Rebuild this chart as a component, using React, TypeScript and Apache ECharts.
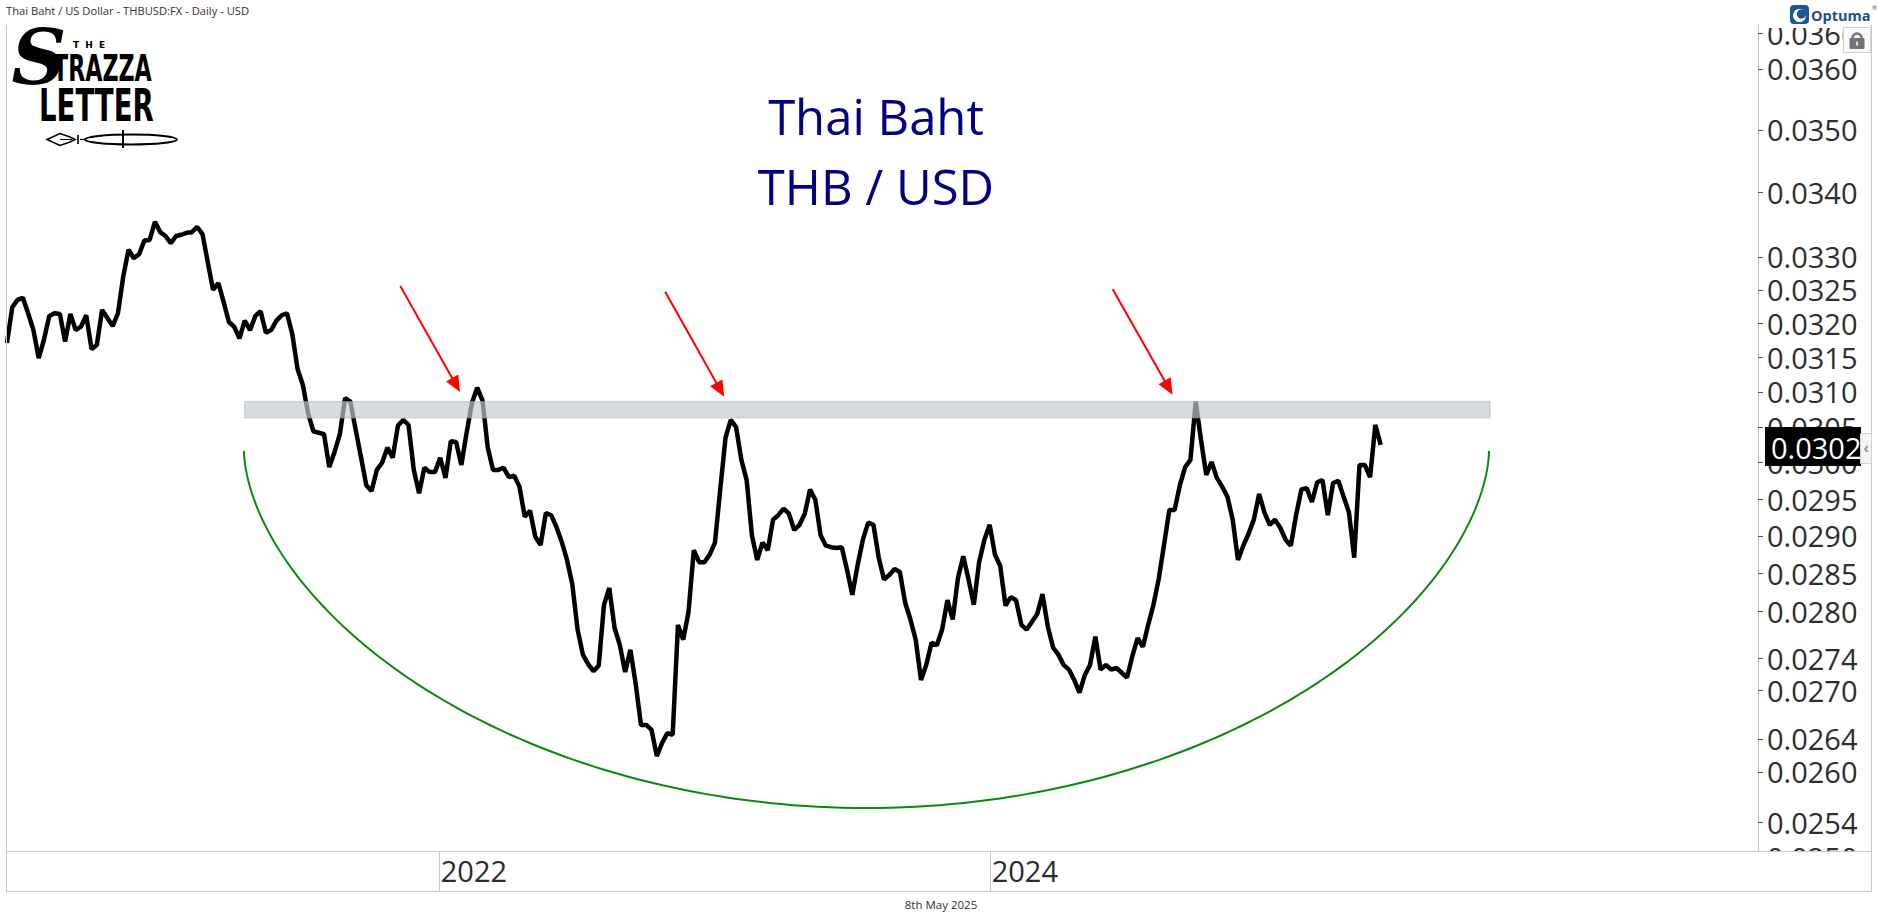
import React, { useEffect, useRef } from "react";
import * as echarts from "echarts";

// ---------------- DATA ----------------
// Weekly closes (Mondays) starting at this date
const FIRST_WEEK = "2020-06-08";
const AXIS_MIN = "2020-06-08";
const AXIS_MAX = "2026-10-15";
const YEAR_LABELS = ["2022-01-01", "2024-01-01"];

const RATES = [
  0.03171, 0.03224, 0.03235, 0.03238, 0.03215, 0.0319, 0.03149, 0.03176, 0.03211, 0.03215,
  0.03214, 0.03173, 0.03214, 0.0319, 0.03195, 0.03212, 0.03162, 0.03168, 0.0322, 0.03208,
  0.03196, 0.03215, 0.0327, 0.03311, 0.03298, 0.03304, 0.03325, 0.03326, 0.03354, 0.03338,
  0.03332, 0.03321, 0.03332, 0.03334, 0.03337, 0.03338, 0.03346, 0.03335, 0.03292, 0.0325,
  0.0326, 0.03232, 0.03202, 0.03195, 0.03178, 0.03204, 0.0319, 0.03211, 0.03218, 0.03186,
  0.0319, 0.03204, 0.03212, 0.03215, 0.03184, 0.03133, 0.0311, 0.03069, 0.03044, 0.03042,
  0.0304, 0.02994, 0.03015, 0.0304, 0.03091, 0.03086, 0.03046, 0.03008, 0.02969, 0.02961,
  0.0299, 0.03, 0.03021, 0.03007, 0.03052, 0.0306, 0.03053, 0.0299, 0.02958, 0.02993,
  0.02987, 0.02987, 0.03007, 0.02979, 0.0303, 0.03029, 0.02997, 0.03042, 0.03084, 0.03106,
  0.03088, 0.03021, 0.0299, 0.0299, 0.02993, 0.0298, 0.02982, 0.02967, 0.02926, 0.02934,
  0.02899, 0.02888, 0.02931, 0.02928, 0.02912, 0.02892, 0.02868, 0.02836, 0.02777, 0.02745,
  0.02733, 0.02724, 0.02731, 0.02809, 0.02831, 0.02779, 0.02757, 0.02723, 0.02751, 0.02708,
  0.02657, 0.02657, 0.02651, 0.02619, 0.02635, 0.02647, 0.02645, 0.02783, 0.02764, 0.028,
  0.02881, 0.02865, 0.02865, 0.02875, 0.02891, 0.02963, 0.03035, 0.0306, 0.0305, 0.03004,
  0.02976, 0.02901, 0.02868, 0.02891, 0.02881, 0.02922, 0.02928, 0.02937, 0.0293, 0.02908,
  0.02915, 0.0293, 0.02963, 0.02949, 0.02901, 0.02887, 0.02885, 0.02884, 0.02885, 0.02855,
  0.02822, 0.02861, 0.02895, 0.02918, 0.02915, 0.02871, 0.02842, 0.02848, 0.02856, 0.02852,
  0.02812, 0.0279, 0.02764, 0.02713, 0.02732, 0.0276, 0.02757, 0.02777, 0.02815, 0.0279,
  0.02844, 0.02873, 0.02842, 0.02809, 0.02865, 0.02895, 0.02915, 0.02875, 0.0286, 0.02808,
  0.02819, 0.02815, 0.02783, 0.02777, 0.02787, 0.02797, 0.02823, 0.02781, 0.02754, 0.02745,
  0.02732, 0.02726, 0.02713, 0.02697, 0.02719, 0.02732, 0.02768, 0.02726, 0.02732, 0.02726,
  0.02728, 0.02722, 0.02716, 0.02743, 0.02766, 0.02755, 0.02783, 0.02809, 0.02843, 0.02888,
  0.02935, 0.02935, 0.02969, 0.02994, 0.03004, 0.03086, 0.03032, 0.02983, 0.03001, 0.02979,
  0.02967, 0.02953, 0.02922, 0.02868, 0.02887, 0.02903, 0.02922, 0.02957, 0.02932, 0.02915,
  0.02922, 0.02911, 0.02895, 0.02887, 0.02928, 0.02963, 0.02965, 0.02946, 0.02973, 0.02976,
  0.02928, 0.02972, 0.02975, 0.02953, 0.02932, 0.02871, 0.02997, 0.02997, 0.0298, 0.03053,
  0.03025,
];

const Y_MIN = 0.025064;
const Y_MAX = 0.03674;
const Y_TICKS = [
  0.0254, 0.026, 0.0264, 0.027, 0.0274, 0.028, 0.0285, 0.029, 0.0295, 0.03,
  0.0305, 0.031, 0.0315, 0.032, 0.0325, 0.033, 0.034, 0.035, 0.036, 0.0366,
];
const HIDDEN_TICK_LABEL = "0.0250";

// resistance band
const BAND_FROM = "2021-04-19";
const BAND_TO = "2025-10-25";
const BAND_LOW = 0.03063;
const BAND_HIGH = 0.03086;

// red arrows: [startDate, startValue, endDate, endValue]
const ARROWS: [string, number, string, number][] = [
  ["2021-11-11", 0.03256, "2022-01-24", 0.0311],
  ["2022-10-28", 0.03247, "2023-01-09", 0.03103],
  ["2024-06-12", 0.03251, "2024-08-25", 0.03106],
];

const TITLE_1 = "Thai Baht";
const TITLE_2 = "THB / USD";
const CAPTION = "Thai Baht / US Dollar - THBUSD:FX - Daily - USD";
const FOOTER = "8th May 2025";

// ---------------- HELPERS ----------------
const W = 1878;
const H = 924;
const FONT = "'Open Sans', 'Noto Sans', sans-serif";

function toTime(s: string): number {
  const [y, m, d] = s.split("-").map(Number);
  return Date.UTC(y, m - 1, d);
}
const WEEK_TIMES = RATES.map((_, i) => {
  const [y, m, d] = FIRST_WEEK.split("-").map(Number);
  return Date.UTC(y, m - 1, d + 7 * i);
});

const LAST = RATES[RATES.length - 1];
const LAST_LABEL = (Math.floor(LAST * 10000) / 10000).toFixed(4);

// green saucer annotation (pixel space)
const ARC = { cx: 866.5, top: 451, halfWidth: 622.5, depth: 357, power: 0.58 };
function arcPoints(): number[][] {
  const pts: number[][] = [];
  const n = 160;
  for (let k = 0; k <= n; k++) {
    const t = -Math.cos((Math.PI * k) / n);
    const y = ARC.top + ARC.depth * Math.pow(Math.max(0, 1 - t * t), ARC.power);
    pts.push([ARC.cx + ARC.halfWidth * t, y]);
  }
  return pts;
}

const GRAY = "#c8c8c8";

function buildGraphics(sepXs: number[]) {
  const g: any[] = [];
  const line = (x1: number, y1: number, x2: number, y2: number, stroke = GRAY, lw = 1, z = 60) =>
    g.push({ type: "line", z, silent: true, shape: { x1, y1, x2, y2 }, style: { stroke, lineWidth: lw } });

  // caption
  g.push({
    type: "text", z: 70, x: 6, y: 10, silent: true,
    style: { text: CAPTION, fontSize: 11.2, fontFamily: FONT, fill: "#3a2c38", align: "left", verticalAlign: "middle" },
  });

  // logo: THE STRAZZA LETTER
  g.push({
    type: "text", z: 70, x: 39, y: 57, silent: true,
    style: { text: "S", fontSize: 76, fontFamily: "'DejaVu Serif', serif", fontStyle: "italic", fontWeight: "bold", fill: "#000", align: "center", verticalAlign: "middle" },
  });
  ["T", "H", "E"].forEach((ch, i) =>
    g.push({
      type: "text", z: 70, x: 76 + i * 13, y: 45, silent: true,
      style: { text: ch, fontSize: 9, fontWeight: "bold", fontFamily: "'DejaVu Sans', sans-serif", fill: "#000", align: "center", verticalAlign: "middle" },
    })
  );
  g.push({
    type: "text", z: 70, x: 53, y: 68.5, scaleX: 0.6, silent: true,
    style: { text: "TRAZZA", fontSize: 37, fontWeight: "bold", fontFamily: "'DejaVu Sans', sans-serif", fill: "#000", align: "left", verticalAlign: "middle" },
  });
  g.push({
    type: "text", z: 70, x: 39, y: 105.5, scaleX: 0.613, silent: true,
    style: { text: "LETTER", fontSize: 45, fontWeight: "bold", fontFamily: "'DejaVu Sans', sans-serif", fill: "#000", align: "left", verticalAlign: "middle" },
  });
  g.push({
    type: "polygon", z: 70, silent: true,
    shape: { points: [[47, 139.5], [60, 133.5], [70, 137], [75, 139.5], [70, 142], [60, 145.5]] },
    style: { stroke: "#000", lineWidth: 1.6, fill: "none" },
  });
  line(60, 139.5, 72, 139.5, "#000", 1, 70);
  line(78, 135, 78, 144, "#000", 1.6, 70);
  line(80, 139.5, 86, 139.5, "#000", 1.2, 70);
  g.push({
    type: "ellipse", z: 70, silent: true, shape: { cx: 131, cy: 139.5, rx: 46, ry: 5 },
    style: { stroke: "#000", lineWidth: 2, fill: "none" },
  });
  line(123, 130, 123, 148, "#000", 2, 70);

  // title
  g.push({
    type: "text", z: 70, x: 876, y: 116, silent: true,
    style: { text: TITLE_1, fontSize: 49, fontFamily: FONT, fill: "#000080", align: "center", verticalAlign: "middle" },
  });
  g.push({
    type: "text", z: 70, x: 876, y: 186, silent: true,
    style: { text: TITLE_2, fontSize: 49, fontFamily: FONT, fill: "#000080", align: "center", verticalAlign: "middle" },
  });

  // green saucer
  g.push({
    type: "polyline", z: 10, silent: true, shape: { points: arcPoints() },
    style: { stroke: "#0a8a0a", lineWidth: 2, fill: "none" },
  });

  // clipped bottom tick label + x band cover
  g.push({
    type: "text", z: 55, x: 1767, y: 857, silent: true,
    style: { text: HIDDEN_TICK_LABEL, fontSize: 29, fontFamily: FONT, fill: "#2e2e2e", align: "left", verticalAlign: "middle" },
  });
  g.push({ type: "rect", z: 58, silent: true, shape: { x: 1759, y: 852, width: 112, height: 39 }, style: { fill: "#fff" } });
  // top cover above axis
  g.push({ type: "rect", z: 58, silent: true, shape: { x: 1759, y: 0, width: 119, height: 28 }, style: { fill: "#fff" } });

  // frame
  line(6.5, 25, 6.5, 891.5);
  line(1871.5, 25, 1871.5, 891.5);
  line(6, 891.5, 1872, 891.5);
  line(1758, 851.5, 1872, 851.5);
  // year separators in the date band
  sepXs.forEach((x) => line(Math.round(x) + 0.5, 851, Math.round(x) + 0.5, 891));

  // Optuma logo
  g.push({ type: "rect", z: 70, silent: true, shape: { x: 1790, y: 5, width: 19, height: 19, r: 4 }, style: { fill: "#1d5796" } });
  g.push({ type: "circle", z: 71, silent: true, shape: { cx: 1799.5, cy: 15.5, r: 6.5 }, style: { fill: "#fff" } });
  g.push({ type: "circle", z: 72, silent: true, shape: { cx: 1801.5, cy: 14, r: 4.6 }, style: { fill: "#1d5796" } });
  g.push({
    type: "text", z: 70, x: 1811, y: 15, silent: true,
    style: { text: "Optuma", fontSize: 14.5, fontWeight: "bold", fontFamily: FONT, fill: "#1d4f8c", align: "left", verticalAlign: "middle" },
  });
  g.push({
    type: "text", z: 70, x: 1872, y: 8, silent: true,
    style: { text: "®", fontSize: 6, fontFamily: FONT, fill: "#1d4f8c", align: "left", verticalAlign: "middle" },
  });

  // lock
  g.push({ type: "rect", z: 70, silent: true, shape: { x: 1843.5, y: 27.5, width: 27, height: 25 }, style: { fill: "#fafafa", stroke: "#d0d0d0", lineWidth: 1 } });
  g.push({ type: "arc", z: 71, silent: true, shape: { cx: 1857, cy: 38, r: 4.5, startAngle: Math.PI, endAngle: Math.PI * 2 }, style: { stroke: "#727272", lineWidth: 2.5, fill: "none" } });
  g.push({ type: "rect", z: 71, silent: true, shape: { x: 1849.5, y: 38, width: 15, height: 11, r: 1.5 }, style: { fill: "#727272" } });
  g.push({ type: "rect", z: 72, silent: true, shape: { x: 1856.2, y: 41.5, width: 1.6, height: 4 }, style: { fill: "#fafafa" } });

  // last price tag
  g.push({ type: "rect", z: 70, silent: true, shape: { x: 1765, y: 427, width: 96, height: 39 }, style: { fill: "#000" } });
  g.push({
    type: "text", z: 71, x: 1771, y: 447, silent: true,
    style: { text: LAST_LABEL, fontSize: 29, fontFamily: FONT, fill: "#fff", align: "left", verticalAlign: "middle" },
  });
  g.push({ type: "rect", z: 72, silent: true, shape: { x: 1860.5, y: 433.5, width: 11, height: 30 }, style: { fill: "#f4f4f4", stroke: "#d0d0d0", lineWidth: 1 } });
  g.push({
    type: "text", z: 73, x: 1866, y: 447, silent: true,
    style: { text: "‹", fontSize: 14, fontWeight: "bold", fontFamily: FONT, fill: "#8a8a8a", align: "center", verticalAlign: "middle" },
  });

  // footer date
  g.push({
    type: "text", z: 70, x: 941, y: 904, silent: true,
    style: { text: FOOTER, fontSize: 11.5, fontFamily: FONT, fill: "#333", align: "center", verticalAlign: "middle" },
  });
  return g;
}

function buildOption() {
  const yearTicks = YEAR_LABELS.map(toTime);
  return {
    animation: false,
    backgroundColor: "#ffffff",
    textStyle: { fontFamily: FONT },
    grid: { left: 7, right: W - 1758, top: 25, bottom: H - 851, containLabel: false, outerBoundsMode: "none" },
    xAxis: {
      type: "value",
      min: toTime(AXIS_MIN),
      max: toTime(AXIS_MAX),
      axisLine: { show: true, lineStyle: { color: GRAY, width: 1 } },
      axisTick: { show: false },
      axisLabel: {
        show: true,
        customValues: yearTicks,
        formatter: (v: number) => String(new Date(v).getUTCFullYear()),
        align: "left",
        verticalAlign: "middle",
        margin: 19,
        padding: [0, 0, 0, 2],
        fontSize: 29,
        color: "#2b2b2b",
        fontFamily: FONT,
        hideOverlap: false,
      },
      splitLine: { show: false },
      minorTick: { show: false },
    },
    yAxis: {
      type: "log",
      logBase: 10,
      position: "right",
      min: Y_MIN,
      max: Y_MAX,
      axisLine: { show: true, lineStyle: { color: GRAY, width: 1 } },
      axisTick: { show: true, customValues: Y_TICKS, length: 5, inside: false, lineStyle: { color: "#555" } },
      axisLabel: {
        show: true,
        customValues: Y_TICKS,
        formatter: (v: number) => v.toFixed(4),
        fontSize: 29,
        color: "#2e2e2e",
        fontFamily: FONT,
        margin: 9,
        hideOverlap: false,
      },
      splitLine: { show: false },
      minorTick: { show: false },
    },
    series: [
      {
        type: "line",
        name: "THB/USD",
        data: WEEK_TIMES.map((t, i) => [t, RATES[i]]),
        showSymbol: false,
        symbol: "none",
        silent: true,
        z: 2,
        lineStyle: { color: "#000", width: 4.5 },
        markLine: {
          silent: true,
          animation: false,
          symbol: ["none", "triangle"],
          symbolSize: [14, 16],
          label: { show: false },
          emphasis: { disabled: true },
          lineStyle: { color: "#ff0000", width: 2, type: "solid" },
          itemStyle: { color: "#ff0000" },
          data: ARROWS.map(([d1, v1, d2, v2]) => [
            { coord: [toTime(d1), v1] },
            { coord: [toTime(d2), v2] },
          ]),
        },
      },
      {
        type: "custom",
        name: "Resistance",
        z: 3,
        silent: true,
        data: [[toTime(BAND_FROM), toTime(BAND_TO), BAND_LOW, BAND_HIGH]],
        encode: { x: [0, 1], y: [2, 3] },
        renderItem: (params: any, api: any) => {
          const p1 = api.coord([api.value(0), api.value(3)]);
          const p2 = api.coord([api.value(1), api.value(2)]);
          return {
            type: "rect",
            shape: { x: p1[0], y: p1[1], width: p2[0] - p1[0], height: p2[1] - p1[1] },
            style: { fill: "rgba(197,203,209,0.68)", stroke: "rgba(170,178,186,0.7)", lineWidth: 1 },
          };
        },
      },
    ],
    graphic: { elements: buildGraphics([]) },
  };
}

export default function App() {
  const ref = useRef<HTMLDivElement>(null);
  useEffect(() => {
    document.body.style.margin = "0";
    document.body.style.overflow = "hidden";
    const chart = echarts.init(ref.current as HTMLDivElement, null, { renderer: "svg", width: W, height: H });
    const option: any = buildOption();
    chart.setOption(option);
    const sepXs = YEAR_LABELS.map((d) => chart.convertToPixel({ xAxisIndex: 0 }, toTime(d)) as number);
    option.graphic = { elements: buildGraphics(sepXs) };
    chart.setOption(option, true);
    return () => chart.dispose();
  }, []);
  return <div ref={ref} style={{ width: W, height: H, background: "#fff" }} />;
}
